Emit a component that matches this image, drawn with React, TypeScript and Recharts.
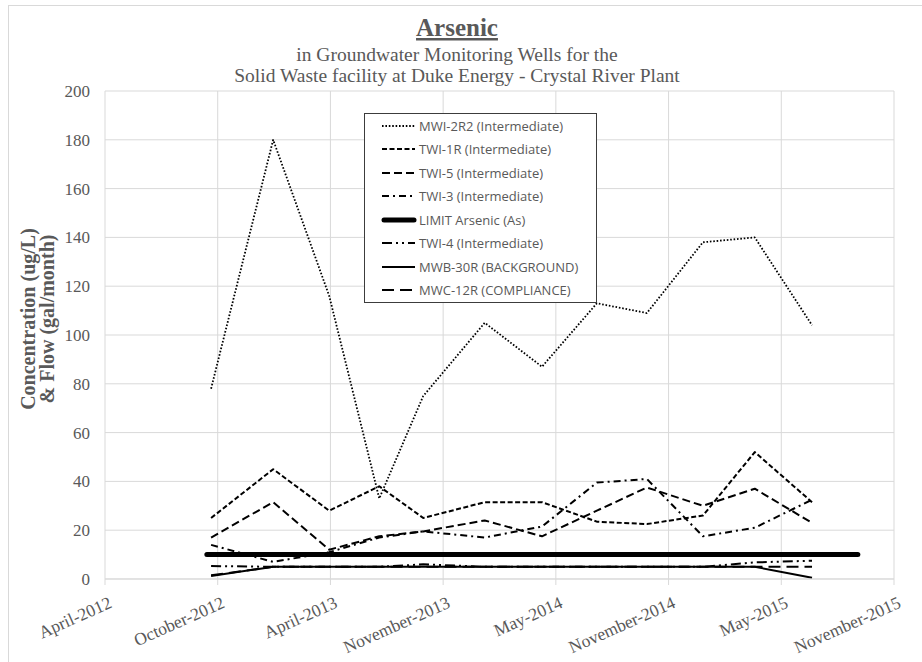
import React from 'react';
import { LineChart, Line, XAxis, YAxis, CartesianGrid, Legend } from 'recharts';

// ---- data ----
const sampleDates = [
  '2012-10-13', '2013-01-24', '2013-04-27', '2013-07-19', '2013-09-30', '2014-01-10',
  '2014-04-15', '2014-07-15', '2014-10-06', '2015-01-07', '2015-04-03', '2015-07-07',
];
const limitDates = ['2012-10-06', '2015-09-21'];
const limitValues = [10, 10];
const mwi2r2 = [78, 180, 116, 33, 75, 105, 87, 113, 109, 138, 140, 104];
const twi1r = [25, 45, 28, 38, 25, 31.5, 31.5, 23.5, 22.5, 26, 52, 31.5];
const twi5 = [17, 31.5, 12, 17.5, 19.5, 24, 17.5, 28, 37.5, 30, 37, 23];
const twi3 = [14, 7, 11, 17, 19.5, 17, 21.5, 39.5, 41, 17.5, 21, 32.5];
const twi4 = [5.3, 5, 5, 5, 6, 5, 5, 5, 5, 5, 6.8, 7.5];
const mwb30r = [1.2, 5, 5, 5, 5, 5, 5, 5, 5, 5, 5, 0.5];
const mwc12r = [1.5, 5, 5, 5, 5, 5, 5, 5, 5, 5, 5, 5];

const xTickDates = [
  '2012-04-20', '2012-10-24', '2013-04-29', '2013-11-02',
  '2014-05-08', '2014-11-11', '2015-05-17', '2015-11-20',
];
const xTickLabels = [
  'April-2012', 'October-2012', 'April-2013', 'November-2013',
  'May-2014', 'November-2014', 'May-2015', 'November-2015',
];
const yTicks = [0, 20, 40, 60, 80, 100, 120, 140, 160, 180, 200];

const titleText = 'Arsenic';
const subtitleLines = [
  'in Groundwater Monitoring Wells for the',
  'Solid Waste facility at Duke Energy - Crystal River Plant',
];
const yTitleLines = ['Concentration (ug/L)', '& Flow (gal/month)'];

// ---- helpers ----
const toTime = (d: string) => Date.parse(d + 'T00:00:00Z');
const build = (dates: string[], values: number[]) =>
  dates.map((d, i) => ({ t: toTime(d), v: values[i] }));
const xTicks = xTickDates.map(toTime);

type Series = {
  name: string;
  data: { t: number; v: number }[];
  dash?: string;
  width: number;
  cap: 'butt' | 'round';
};

const series: Series[] = [
  { name: 'MWI-2R2 (Intermediate)', data: build(sampleDates, mwi2r2), dash: '1.6 1.8', width: 1.8, cap: 'butt' },
  { name: 'TWI-1R (Intermediate)', data: build(sampleDates, twi1r), dash: '5 2.5', width: 2, cap: 'butt' },
  { name: 'TWI-5 (Intermediate)', data: build(sampleDates, twi5), dash: '8 4', width: 2, cap: 'butt' },
  { name: 'TWI-3 (Intermediate)', data: build(sampleDates, twi3), dash: '7 4 2 4', width: 2, cap: 'butt' },
  { name: 'LIMIT Arsenic (As)', data: build(limitDates, limitValues), width: 5, cap: 'round' },
  { name: 'TWI-4 (Intermediate)', data: build(sampleDates, twi4), dash: '10 4 2 4 2 4', width: 2, cap: 'butt' },
  { name: 'MWB-30R (BACKGROUND)', data: build(sampleDates, mwb30r), width: 2, cap: 'butt' },
  { name: 'MWC-12R (COMPLIANCE)', data: build(sampleDates, mwc12r), dash: '12 6', width: 2, cap: 'butt' },
];
const seriesOrder = series.map((s) => s.name);
const seriesByName: Record<string, Series> = {};
series.forEach((s) => (seriesByName[s.name] = s));

const TEXT = '#595959';
const GRID = '#d9d9d9';
const SERIF = '"Liberation Serif", "Times New Roman", serif';

const XTick = (props: any) => {
  const { x, y, payload } = props;
  const idx = xTicks.indexOf(payload.value);
  const label = idx >= 0 ? xTickLabels[idx] : '';
  return (
    <g transform={`translate(${x + 8},${y + 20}) rotate(-24)`}>
      <text x={0} y={0} textAnchor="end" fill={TEXT} fontFamily={SERIF} fontSize={17.5}>
        {label}
      </text>
    </g>
  );
};

const renderLegend = (props: any) => {
  const payload = [...(props.payload || [])].sort(
    (a: any, b: any) => seriesOrder.indexOf(a.value) - seriesOrder.indexOf(b.value)
  );
  return (
    <div
      style={{
        width: 231,
        border: '1px solid #3c3c3c',
        background: '#fff',
        fontFamily: '"Open Sans", sans-serif',
        fontSize: 13,
        color: TEXT,
      }}
    >
      {payload.map((entry: any) => {
        const s = seriesByName[entry.value];
        if (!s) return null;
        return (
          <div key={entry.value} style={{ height: 23.5, display: 'flex', alignItems: 'center' }}>
            <svg width={36} height={10} style={{ marginLeft: 16, marginRight: 2, flex: 'none' }}>
              <line
                x1={s.cap === 'round' ? 3 : 1}
                y1={5}
                x2={s.cap === 'round' ? 33 : 34}
                y2={5}
                stroke="#000"
                strokeWidth={s.width}
                strokeDasharray={s.dash}
                strokeLinecap={s.cap}
              />
            </svg>
            <span style={{ whiteSpace: 'nowrap' }}>{entry.value}</span>
          </div>
        );
      })}
    </div>
  );
};

export default function App() {
  return (
    <div style={{ position: 'absolute', left: 0, top: 0, width: 922, height: 662, background: '#fff', overflow: 'hidden' }}>
      <div
        style={{
          position: 'absolute',
          left: 8,
          top: 5,
          width: 1000,
          height: 1000,
          borderLeft: `1px solid ${GRID}`,
          borderTop: `1px solid ${GRID}`,
        }}
      />
      <LineChart width={922} height={662} margin={{ top: 91, right: 28, left: 0, bottom: 0 }}>
        <CartesianGrid stroke={GRID} strokeWidth={1} />
        <XAxis
          dataKey="t"
          type="number"
          domain={[xTicks[0], xTicks[xTicks.length - 1]]}
          ticks={xTicks}
          interval={0}
          height={83}
          stroke={GRID}
          tickLine={{ stroke: GRID }}
          tickSize={6}
          tickMargin={2}
          tick={<XTick />}
          allowDataOverflow
        />
        <YAxis
          type="number"
          domain={[0, 200]}
          ticks={yTicks}
          interval={0}
          width={105}
          axisLine={false}
          tickLine={false}
          tickSize={6}
          tickMargin={9}
          tick={{ fill: TEXT, fontFamily: SERIF, fontSize: 17 }}
        />
        <Legend
          layout="vertical"
          align="center"
          verticalAlign="middle"
          content={renderLegend}
          wrapperStyle={{ position: 'absolute', left: 364, top: 113, width: 233, height: 'auto' }}
        />
        {series.map((s) => (
          <Line
            key={s.name}
            name={s.name}
            data={s.data}
            dataKey="v"
            type="linear"
            stroke="#000"
            strokeWidth={s.width}
            strokeDasharray={s.dash}
            strokeLinecap={s.cap}
            strokeLinejoin="round"
            dot={false}
            activeDot={false}
            isAnimationActive={false}
            legendType="line"
          />
        ))}
      </LineChart>
      <svg
        width={922}
        height={662}
        style={{ position: 'absolute', left: 0, top: 0, pointerEvents: 'none' }}
      >
        <text
          x={457}
          y={36}
          textAnchor="middle"
          fontFamily={SERIF}
          fontWeight="bold"
          fontSize={25}
          fill={TEXT}
          textDecoration="underline"
        >
          {titleText}
        </text>
        {subtitleLines.map((line, i) => (
          <text
            key={i}
            x={457}
            y={61 + i * 20.7}
            textAnchor="middle"
            fontFamily={SERIF}
            fontSize={19.5}
            fill={TEXT}
          >
            {line}
          </text>
        ))}
        {yTitleLines.map((line, i) => (
          <text
            key={i}
            x={0}
            y={0}
            transform={`translate(${35 + i * 19},319) rotate(-90)`}
            textAnchor="middle"
            fontFamily={SERIF}
            fontWeight="bold"
            fontSize={20}
            fill={TEXT}
          >
            {line}
          </text>
        ))}
      </svg>
    </div>
  );
}
